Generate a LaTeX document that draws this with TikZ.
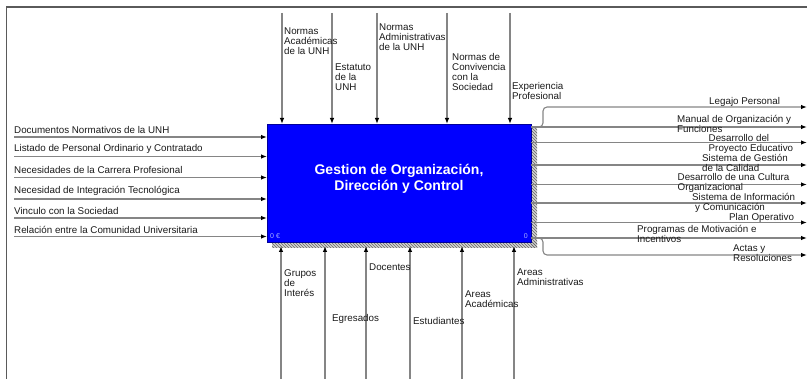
\documentclass[tikz,border=0pt]{standalone}
\usepackage{fontspec}
\setmainfont{Liberation Sans}
\usetikzlibrary{arrows.meta,calc,patterns}
\definecolor{wire}{HTML}{858585}
\definecolor{ink}{HTML}{1A1A1A}
\definecolor{framegray}{HTML}{5A5A5A}
\definecolor{actblue}{HTML}{0000FF}
\definecolor{cost}{HTML}{A8B0FF}
\begin{document}
\begin{tikzpicture}[x=1pt,y=-1pt,
  wire/.style={draw=wire, line width=1.1pt},
  arr/.style={wire, -{Latex[length=6pt,width=4.5pt,color=black]}},
  lbl/.style={inner sep=0pt, anchor=north west, align=left, text=ink,
    font=\fontsize{9.8}{10}\selectfont, yshift=4.2pt,
    execute at begin node={\rule{0pt}{7.2pt}}},
  % labels whose first line carries an accent sit a little lower in their box
  albl/.style={lbl, yshift=1.9pt},
  actbox/.style={draw=blue!60!black, line width=0.6pt, fill=actblue,
    minimum width=264pt, minimum height=118pt, inner sep=0pt, outer sep=0pt},
  title/.style={text=white, align=center,
    font=\fontsize{14}{15.5}\selectfont\bfseries},
  costlbl/.style={text=cost, inner sep=0pt, font=\fontsize{7}{8}\selectfont}
]
\useasboundingbox (0,0) rectangle (807,379);

% outer frame
\draw[framegray, line width=1.4pt] (807,7) -- (6.5,7) -- (6.5,379);

% activity box with its hatched shadow
\node[actbox] (act) at (399,183) {};
\fill[gray!35] ($(act.north east)+(0,4)$) rectangle ($(act.south east)+(6,6)$);
\fill[gray!35] ($(act.south west)+(5,0)$) rectangle ($(act.south east)+(6,6)$);
\fill[pattern=north west lines, pattern color=gray!80!black]
  ($(act.north east)+(0,4)$) rectangle ($(act.south east)+(6,6)$);
\fill[pattern=north west lines, pattern color=gray!80!black]
  ($(act.south west)+(5,0)$) rectangle ($(act.south east)+(6,6)$);
\node[actbox] (actface) at (act.center) {};
\node[title] (acttitle) at (399,179) {Gestion de Organización,\\Dirección y Control};
\node[costlbl, anchor=west] (costl) at (270,236) {0 €};
\node[costlbl, anchor=east] (costr) at (528,236) {0};

% controls (top)
\coordinate (t1) at (282,13);
\coordinate (t2) at (332,13);
\coordinate (t3) at (377,13);
\coordinate (t4) at (447,13);
\coordinate (t5) at (510,13);
\foreach \c in {t1,t2,t3,t4,t5} \draw[arr] (\c) -- (\c |- act.north);
\node[lbl] (lt1) at (284,31.5) {Normas\\Académicas\\de la UNH};
\node[lbl] (lt2) at (335,68) {Estatuto\\de la\\UNH};
\node[lbl] (lt3) at (379,27.5) {Normas\\Administrativas\\de la UNH};
\node[lbl] (lt4) at (452,57) {Normas de\\Convivencia\\con la\\Sociedad};
\node[lbl] (lt5) at (512,86) {Experiencia\\Profesional};

% inputs (left)
\coordinate (i1) at (14,137);
\coordinate (i2) at (14,156.5);
\coordinate (i3) at (14,177.5);
\coordinate (i4) at (14,199);
\coordinate (i5) at (14,218);
\coordinate (i6) at (14,236.5);
\foreach \c in {i1,i2,i3,i4,i5,i6} \draw[arr] (\c) -- (\c -| act.west);
\node[lbl] (li1) at (14,130.5) {Documentos Normativos de la UNH};
\node[lbl] (li2) at (14,148.5) {Listado de Personal Ordinario y Contratado};
\node[lbl] (li3) at (14,170.5) {Necesidades de la Carrera Profesional};
\node[albl] (li4) at (14,192.5) {Necesidad de Integración Tecnológica};
\node[lbl] (li5) at (14,211.5) {Vinculo con la Sociedad};
\node[albl] (li6) at (14,232) {Relación entre la Comunidad Universitaria};

% mechanisms (bottom)
\coordinate (m1) at (281,379);
\coordinate (m2) at (325,379);
\coordinate (m3) at (366,379);
\coordinate (m4) at (410,379);
\coordinate (m5) at (462,379);
\coordinate (m6) at (514,379);
\foreach \c in {m1,m2,m3,m4,m5,m6} \draw[arr] (\c) -- ($(\c |- act.south)+(0,4)$);
\node[lbl] (lm1) at (284,274) {Grupos\\de\\Interés};
\node[lbl] (lm2) at (332,318) {Egresados};
\node[lbl] (lm3) at (369,267) {Docentes};
\node[lbl] (lm4) at (413,321) {Estudiantes};
\node[lbl] (lm5) at (465,295) {Areas\\Académicas};
\node[lbl] (lm6) at (517,273) {Areas\\Administrativas};

% outputs (right)
\coordinate (o1) at (807,107);
\coordinate (o2) at (807,127);
\coordinate (o3) at (807,142.5);
\coordinate (o4) at (807,165);
\coordinate (o5) at (807,184.5);
\coordinate (o6) at (807,203);
\coordinate (o7) at (807,222.5);
\coordinate (o8) at (807,238);
\coordinate (o9) at (807,255);
\coordinate (b1) at (543,117);
\coordinate (b9) at (543,246);
\foreach \c in {o2,o3,o4,o5,o6,o7,o8} \draw[arr] (\c -| act.east) -- (\c);
\draw[arr, rounded corners=4pt] (o2 -| act.east) -| (b1) |- (o1);
\draw[arr, rounded corners=4pt] (o8 -| act.east) -| (b9) |- (o9);
\node[lbl] (lo1) at (709,101.5) {Legajo Personal};
\node[albl] (lo2) at (677,121.5) {Manual de Organización y\\Funciones};
\node[lbl] (lo3) at (708.5,138.5) {Desarrollo del\\Proyecto Educativo};
\node[albl] (lo4) at (702,160) {Sistema de Gestión\\de la Calidad};
\node[lbl] (lo5) at (677.5,177.5) {Desarrollo de una Cultura\\Organizacional};
\node[albl] (lo6) at (692,198.7) {Sistema de Información\\\hspace*{3pt}y Comunicación};
\node[lbl] (lo7) at (729,217) {Plan Operativo};
\node[albl] (lo8) at (637,231.5) {Programas de Motivación e\\Incentivos};
\node[lbl] (lo9) at (733,248.5) {Actas y\\Resoluciones};
\end{tikzpicture}
\end{document}
